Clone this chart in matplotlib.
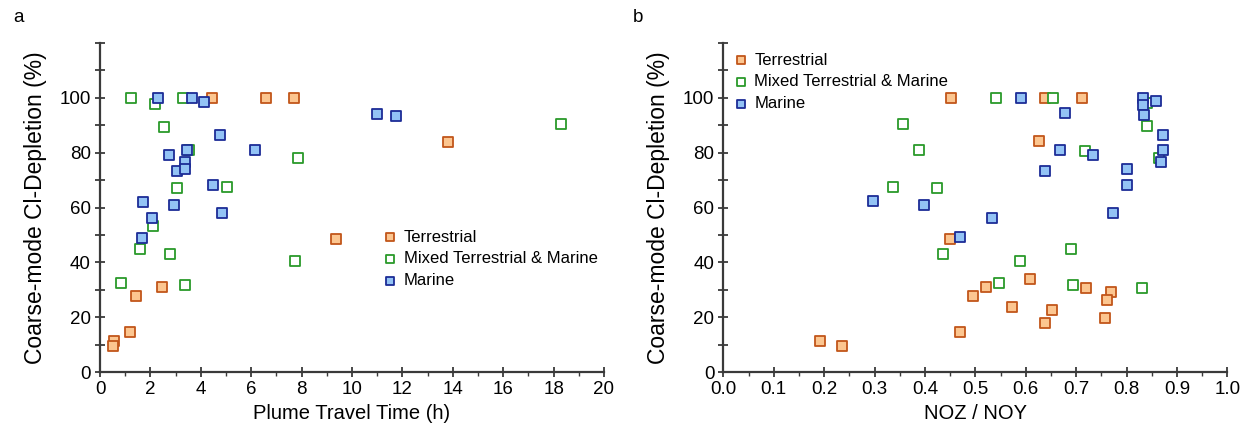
import matplotlib
matplotlib.use("Agg")
import matplotlib.pyplot as plt
import numpy as np

plt.rcParams['font.family'] = ['Liberation Sans', 'DejaVu Sans']

# ---- Panel a: Plume travel time ----
a_terr_x = [4.46, 6.60, 7.70, 9.35, 13.82, 2.46, 1.42, 1.20, 0.54, 0.52]
a_terr_y = [100, 100, 100, 48.4, 84.0, 30.9, 27.8, 14.7, 11.4, 9.7]

a_mix_x = [1.23, 2.18, 3.31, 2.53, 3.55, 7.86, 3.06, 5.03, 2.10, 1.57, 2.76, 7.75, 0.82, 3.37, 18.28]
a_mix_y = [100, 97.8, 100, 89.4, 81.0, 78.0, 67.0, 67.3, 53.4, 44.8, 43.2, 40.5, 32.4, 31.8, 90.5]

a_mar_x = [2.29, 3.64, 4.11, 4.75, 3.44, 6.17, 2.72, 3.39, 3.04, 3.36, 4.48, 1.69, 2.94, 4.86, 2.06, 1.68, 10.98, 11.73]
a_mar_y = [100, 100, 98.5, 86.4, 81.0, 80.9, 79.0, 76.6, 73.4, 73.9, 68.3, 62.1, 60.8, 58.0, 56.2, 48.9, 94.0, 93.4]

# ---- Panel b: NOZ / NOY ----
b_terr_x = [0.452, 0.450, 0.495, 0.470, 0.192, 0.236, 0.639, 0.712, 0.626, 0.609,
            0.521, 0.720, 0.769, 0.761, 0.572, 0.653, 0.639, 0.757]
b_terr_y = [100, 48.4, 27.8, 14.7, 11.3, 9.7, 100, 100, 84.1, 33.9,
            31.1, 30.8, 29.2, 26.2, 23.8, 22.7, 18.1, 19.7]

b_mix_x = [0.357, 0.388, 0.337, 0.424, 0.436, 0.542, 0.654, 0.840, 0.841, 0.718,
           0.864, 0.690, 0.589, 0.548, 0.694, 0.831]
b_mix_y = [90.5, 81.0, 67.5, 67.1, 43.2, 100, 100, 97.9, 89.6, 80.4,
           78.1, 44.8, 40.5, 32.4, 31.9, 30.6]

b_mar_x = [0.298, 0.398, 0.469, 0.590, 0.832, 0.832, 0.858, 0.834, 0.677, 0.872,
           0.668, 0.872, 0.733, 0.868, 0.639, 0.800, 0.800, 0.533, 0.773]
b_mar_y = [62.2, 60.8, 49.1, 100, 100, 97.4, 98.8, 93.7, 94.3, 86.5,
           81.0, 81.0, 79.0, 76.7, 73.4, 74.0, 68.3, 56.2, 58.1]

labels = ["Terrestrial", "Mixed Terrestrial & Marine", "Marine"]
y_ticks = list(range(0, 121, 10))
y_ticklabels = ['0', '', '20', '', '40', '', '60', '', '80', '', '100', '', '']
a_xticks = list(range(0, 21, 2))
b_xticks = [round(0.1 * i, 1) for i in range(11)]

styles = [
    dict(facecolor='#fcc690', edgecolor='#c2561a'),
    dict(facecolor='white', edgecolor='#2a9a2a'),
    dict(facecolor='#93c3f5', edgecolor='#1c2c96'),
]

W, H = 1244, 442
fig = plt.figure(figsize=(W / 100, H / 100), dpi=100)
ax_a = fig.add_axes([100 / W, 69.7 / H, 504 / W, 329.6 / H])
ax_b = fig.add_axes([723.3 / W, 69.7 / H, 504 / W, 329.6 / H])

spine_col = '#3a3a3a'


def style_axis(ax, xlim, xticks, xminor, xfmt, xlabel):
    for s in ['top', 'right']:
        ax.spines[s].set_visible(False)
    for s in ['left', 'bottom']:
        ax.spines[s].set_color(spine_col)
        ax.spines[s].set_linewidth(1.6)
    ax.set_xlim(*xlim)
    ax.set_ylim(0, 120)
    ax.set_xticks(xticks)
    ax.set_xticklabels([xfmt(v) for v in xticks])
    ax.set_xticks(xminor, minor=True)
    ax.set_yticks(y_ticks)
    ax.set_yticklabels(y_ticklabels)
    ax.tick_params(axis='both', which='major', direction='inout', length=7, width=1.3,
                   color=spine_col, labelsize=13.5, pad=3)
    ax.tick_params(axis='x', which='minor', direction='out', length=3, width=1.0, color=spine_col)
    ax.set_xlabel(xlabel, fontsize=14.5, labelpad=4)
    ax.set_ylabel("Coarse-mode Cl-Depletion (%)", fontsize=16.5, labelpad=9)


def plot_sets(ax, sets):
    for (x, y), st, lab in zip(sets, styles, labels):
        ax.scatter(x, y, marker='s', s=42, linewidths=1.3, label=lab, zorder=3,
                   clip_on=False, **st)


plot_sets(ax_a, [(a_terr_x, a_terr_y), (a_mix_x, a_mix_y), (a_mar_x, a_mar_y)])
plot_sets(ax_b, [(b_terr_x, b_terr_y), (b_mix_x, b_mix_y), (b_mar_x, b_mar_y)])

style_axis(ax_a, (0, 20), a_xticks, np.arange(1, 20, 2), lambda v: f"{v:d}", "Plume Travel Time (h)")
style_axis(ax_b, (0, 1.0), b_xticks, np.arange(0.05, 1.0, 0.1), lambda v: f"{v:.1f}", "NOZ / NOY")

leg_kw = dict(frameon=False, fontsize=12, markerscale=0.82, handletextpad=0.3,
              handlelength=1.0, borderpad=0, labelspacing=0.4, loc='upper left')
ax_a.legend(bbox_to_anchor=(0.543, 0.458), **leg_kw)
ax_b.legend(bbox_to_anchor=(0.002, 0.995), **leg_kw)

fig.text(18 / W, 1 - 18 / H, 'a', fontsize=13.5, ha='center', va='center')
fig.text(638 / W, 1 - 18 / H, 'b', fontsize=13.5, ha='center', va='center')

fig.savefig('out.png', dpi=100)
